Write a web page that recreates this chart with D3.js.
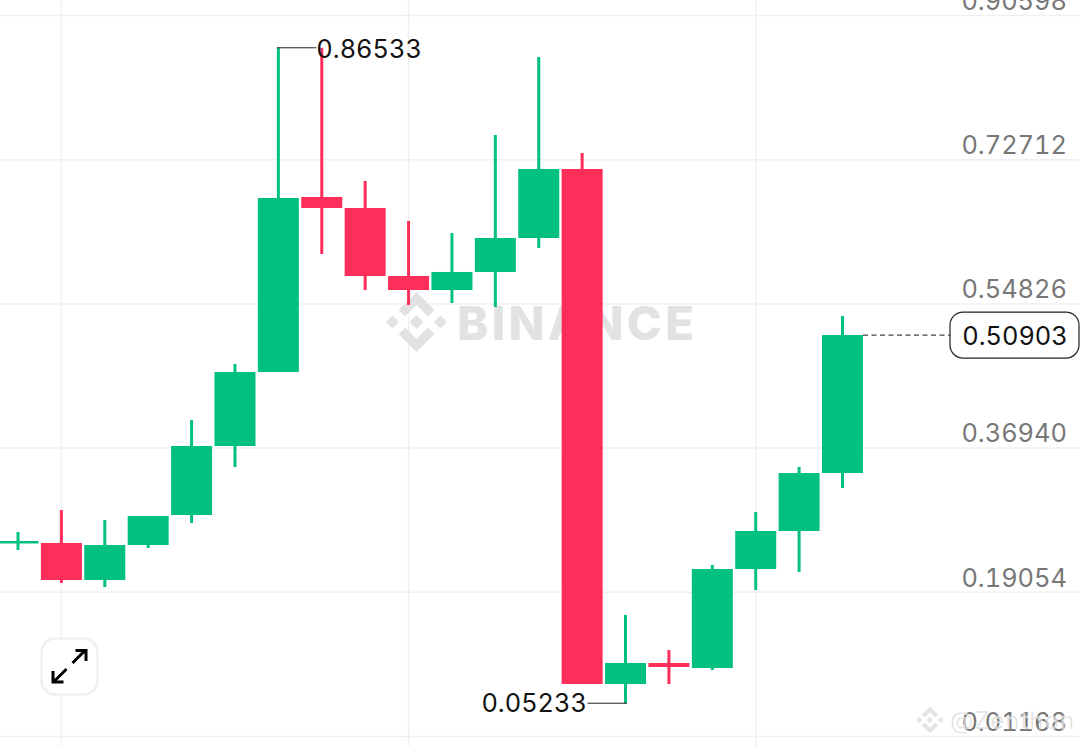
<!DOCTYPE html>
<html>
<head>
<meta charset="utf-8">
<script src="https://cdn.jsdelivr.net/npm/d3@7"></script>
<style>
  html, body { margin: 0; padding: 0; background: #fff; overflow: hidden; }
  svg { display: block; }
  text { font-family: "Inter", sans-serif; font-variant-numeric: tabular-nums; font-feature-settings: "tnum" 1; }
</style>
</head>
<body>
<div id="vis"></div>
<script>
// declare constants
const FRAME_WIDTH = 1080;
const FRAME_HEIGHT = 746;
const GREEN = "#02c07e";
const RED = "#fe2e5a";
const LABEL_SIZE = "25.4px";

// candles
const OPENS =  [0.25108, 0.25108, 0.20518, 0.24860, 0.28581, 0.37140, 0.46319, 0.68026, 0.66661, 0.58226, 0.56490, 0.58723, 0.62940, 0.71499, 0.07618, 0.10223, 0.09603, 0.21883, 0.26596, 0.33791];
const CLOSES = [0.25356, 0.20518, 0.24860, 0.28457, 0.37140, 0.46319, 0.67902, 0.66661, 0.58226, 0.56490, 0.58723, 0.62940, 0.71499, 0.07618, 0.10223, 0.09727, 0.21883, 0.26596, 0.33791, 0.50903];
const HIGHS =  [0.26472, 0.29201, 0.27961, 0.28457, 0.40365, 0.47311, 0.86533, 0.86533, 0.70010, 0.65049, 0.63560, 0.75716, 0.85391, 0.73483, 0.16177, 0.11835, 0.22379, 0.28953, 0.34535, 0.53265];
const LOWS =   [0.24239, 0.20146, 0.19650, 0.24488, 0.27589, 0.34535, 0.46319, 0.60955, 0.56490, 0.54629, 0.54877, 0.54381, 0.61700, 0.07618, 0.05233, 0.07618, 0.09355, 0.19278, 0.21511, 0.31930];

const Y_TICKS = [0.01168, 0.19054, 0.36940, 0.54826, 0.72712, 0.90598];
const X_GRID = [1, 9, 17];
const MAX_LABEL = {index: 6, value: 0.86533};
const MIN_LABEL = {index: 14, value: 0.05233};
const LAST_PRICE = 0.50903;

const indexes = d3.range(OPENS.length);

const SVG = d3.select("#vis")
  .append("svg")
    .attr("width", FRAME_WIDTH)
    .attr("height", FRAME_HEIGHT);

// scales
const X_SCALE = d3.scaleLinear().domain([0, 19]).range([18, 842.5]);
const Y_SCALE = d3.scaleLinear().domain([0.01168, 0.90598]).range([736, 15]);
const BODY_WIDTH = 41;

// vertical grid
SVG.append("g")
  .selectAll("line")
  .data(X_GRID)
  .enter()
  .append("line")
    .attr("x1", (d) => X_SCALE(d))
    .attr("x2", (d) => X_SCALE(d))
    .attr("y1", 0)
    .attr("y2", FRAME_HEIGHT)
    .attr("stroke", "#f0f0f0")
    .attr("stroke-width", 1.5);

// y axis, labels sit above their grid line
const Y_AXIS = SVG.append("g")
  .attr("transform", "translate(" + FRAME_WIDTH + ",0)")
  .call(d3.axisLeft(Y_SCALE)
    .tickValues(Y_TICKS)
    .tickSize(FRAME_WIDTH)
    .tickFormat(d3.format(".5f")));
Y_AXIS.select(".domain").remove();
Y_AXIS.selectAll("line").attr("stroke", "#f0f0f0").attr("stroke-width", 1.5);
Y_AXIS.selectAll("text")
  .attr("x", -13)
  .attr("y", -14.5)
  .attr("dy", "0.35em")
  .attr("text-anchor", "end")
  .attr("fill", "#777777")
  .attr("font-size", LABEL_SIZE);

// binance logo made of a centre diamond, two side diamonds and two chevrons
function drawLogo(parent, cx, cy, scale, color) {
  const g = parent.append("g")
    .attr("transform", "translate(" + cx + "," + cy + ") scale(" + scale + ")")
    .attr("fill", color);
  const paths = [
    "M0,-7L7,0L0,7L-7,0Z",
    "M-24,-6.5L-17.5,0L-24,6.5L-30.5,0Z",
    "M24,-6.5L30.5,0L24,6.5L17.5,0Z",
    "M0,-30L18,-12L11.5,-5.5L0,-17L-11.5,-5.5L-18,-12Z",
    "M0,30L18,12L11.5,5.5L0,17L-11.5,5.5L-18,12Z"
  ];
  g.selectAll("path").data(paths).enter().append("path").attr("d", (d) => d);
}

// big watermark
drawLogo(SVG, 416.5, 322, 1, "#e2e2e2");
SVG.append("text")
  .attr("x", 457)
  .attr("y", 340)
  .attr("font-size", "47px")
  .attr("font-weight", 800)
  .attr("letter-spacing", "3.4px")
  .attr("fill", "#e2e2e2")
  .text("BINANCE");

// wicks
SVG.append("g")
  .selectAll("line")
  .data(indexes)
  .enter()
  .append("line")
    .attr("x1", (i) => X_SCALE(i))
    .attr("x2", (i) => X_SCALE(i))
    .attr("y1", (i) => Y_SCALE(HIGHS[i]))
    .attr("y2", (i) => Y_SCALE(LOWS[i]))
    .attr("stroke", (i) => CLOSES[i] >= OPENS[i] ? GREEN : RED)
    .attr("stroke-width", 3);

// bodies
SVG.append("g")
  .selectAll("rect")
  .data(indexes)
  .enter()
  .append("rect")
    .attr("x", (i) => X_SCALE(i) - BODY_WIDTH / 2)
    .attr("y", (i) => Y_SCALE(Math.max(OPENS[i], CLOSES[i])))
    .attr("width", BODY_WIDTH)
    .attr("height", (i) => Math.max(2.5, Math.abs(Y_SCALE(OPENS[i]) - Y_SCALE(CLOSES[i]))))
    .attr("fill", (i) => CLOSES[i] >= OPENS[i] ? GREEN : RED);

// max and min labels
const maxY = Y_SCALE(MAX_LABEL.value);
SVG.append("line")
  .attr("x1", X_SCALE(MAX_LABEL.index) - 1.5)
  .attr("x2", X_SCALE(MAX_LABEL.index) + 38)
  .attr("y1", maxY)
  .attr("y2", maxY)
  .attr("stroke", "#222");
SVG.append("text")
  .attr("x", X_SCALE(MAX_LABEL.index) + 38)
  .attr("y", maxY + 1)
  .attr("dy", "0.35em")
  .attr("font-size", LABEL_SIZE)
  .attr("fill", "#111")
  .text(d3.format(".5f")(MAX_LABEL.value));

const minY = Y_SCALE(MIN_LABEL.value);
SVG.append("line")
  .attr("x1", X_SCALE(MIN_LABEL.index) + 1.5)
  .attr("x2", X_SCALE(MIN_LABEL.index) - 38)
  .attr("y1", minY)
  .attr("y2", minY)
  .attr("stroke", "#222");
SVG.append("text")
  .attr("x", X_SCALE(MIN_LABEL.index) - 38.5)
  .attr("y", minY)
  .attr("dy", "0.35em")
  .attr("text-anchor", "end")
  .attr("font-size", LABEL_SIZE)
  .attr("fill", "#111")
  .text(d3.format(".5f")(MIN_LABEL.value));

// last price line and box
const lastY = Y_SCALE(LAST_PRICE);
SVG.append("line")
  .attr("x1", X_SCALE(19) + BODY_WIDTH / 2)
  .attr("x2", 950)
  .attr("y1", lastY)
  .attr("y2", lastY)
  .attr("stroke", "#444")
  .attr("stroke-width", 1.2)
  .attr("stroke-dasharray", "5,3.5");
SVG.append("rect")
  .attr("x", 950)
  .attr("y", lastY - 23)
  .attr("width", 129)
  .attr("height", 46)
  .attr("rx", 13)
  .attr("fill", "#fff")
  .attr("stroke", "#222")
  .attr("stroke-width", 1.2);
SVG.append("text")
  .attr("x", 1015)
  .attr("y", lastY + 1)
  .attr("dy", "0.35em")
  .attr("text-anchor", "middle")
  .attr("font-size", LABEL_SIZE)
  .attr("fill", "#111")
  .text(d3.format(".5f")(LAST_PRICE));

// expand button
const BUTTON = SVG.append("g");
BUTTON.append("rect")
  .attr("x", 41.5)
  .attr("y", 638.5)
  .attr("width", 56)
  .attr("height", 56)
  .attr("rx", 14)
  .attr("fill", "#fff")
  .attr("stroke", "#eeeeee")
  .attr("stroke-width", 2.2);
BUTTON.append("path")
  .attr("d", "M72.5,663L85,650.5M75.5,650.5H86V661M66.5,669L54,681.5M53,671V682H63.5")
  .attr("fill", "none")
  .attr("stroke", "#000")
  .attr("stroke-width", 3);

// small watermark over the bottom right
const SMALL = SVG.append("g").attr("opacity", 0.75);
drawLogo(SMALL, 930, 720, 0.45, "#dddddd");
SMALL.append("text")
  .attr("x", 950)
  .attr("y", 729)
  .attr("font-size", "24px")
  .attr("letter-spacing", "1px")
  .attr("fill", "#d0d0d0")
  .attr("stroke", "#ffffff")
  .attr("stroke-width", 0.6)
  .text("@Zenthon");
</script>
</body>
</html>
